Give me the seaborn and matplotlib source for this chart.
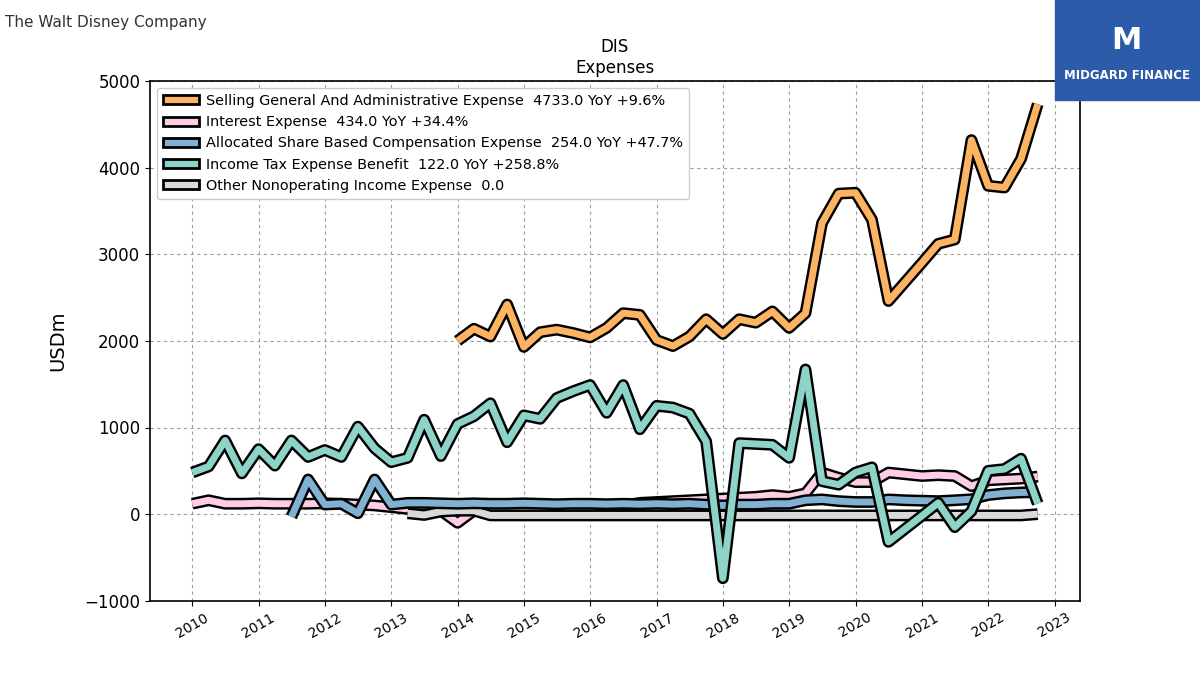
import numpy as np
import pandas as pd
import seaborn as sns
import matplotlib.pyplot as plt
import matplotlib.dates as mdates
from matplotlib.patches import Patch

# quarterly dates (fiscal quarter ends)
dates = pd.date_range("2009-12-31", periods=52, freq="QE")

nan = np.nan

sga = [nan] * 16 + [
    2000, 2140, 2050, 2420, 1930, 2100, 2130, 2090, 2040, 2150, 2320, 2300,
    2010, 1940, 2050, 2250, 2080, 2250, 2210, 2340, 2150, 2320, 3360, 3700,
    3710, 3400, 2460, 2680, 2900, 3120, 3170, 4318, 3790, 3770, 4100, 4733]

interest = [
    120, 160, 120, 120, 125, 120, 120, 120, 125, 120, 110, 100,
    80, 60, 50, 40, -100, 40, 60, 70, 70, 80, 80, 90,
    90, 100, 100, 130, 140, 150, 160, 170, 180, 190, 200, 220,
    200, 240, 480, 420, 370, 370, 480, 460, 440, 450, 440, 323,
    390, 400, 410, 434]

share_comp = [nan] * 6 + [
    -30, 400, 110, 120, 10, 400, 110, 130, 130, 125, 120, 125,
    120, 120, 125, 120, 115, 120, 120, 115, 120, 115, 120, 115,
    120, 110, 100, 110, 110, 120, 120, 160, 170, 150, 140, 140,
    170, 160, 155, 150, 160, 172, 220, 240, 250, 254]

income_tax = [
    480, 550, 850, 470, 750, 560, 850, 660, 740, 660, 1010, 760,
    600, 650, 1090, 670, 1040, 1130, 1280, 830, 1140, 1100, 1340, 1420,
    1490, 1170, 1490, 980, 1250, 1230, 1160, 840, -740, 820, 810, 800,
    650, 1670, 380, 340, 480, 540, -320, -170, -20, 130, -150, 34,
    500, 520, 640, 122]

other_nonop = [nan] * 13 + [
    10, -10, 30, 40, 40, -15, -15, -15, -15, -15, -15, -15,
    -15, -15, -15, -15, -15, -15, -15, -15, -15, -15, -15, -15,
    -15, -15, -15, -15, -15, -15, -15, -15, -15, -15, -15, -15,
    -15, -15, 0]

labels = [
    "Selling General And Administrative Expense  4733.0 YoY +9.6%",
    "Interest Expense  434.0 YoY +34.4%",
    "Allocated Share Based Compensation Expense  254.0 YoY +47.7%",
    "Income Tax Expense Benefit  122.0 YoY +258.8%",
    "Other Nonoperating Income Expense  0.0",
]
series = [sga, interest, share_comp, income_tax, other_nonop]
colors = ["#FDB462", "#FCCDE5", "#80B1D3", "#8DD3C7", "#D9D9D9"]
zorders = [6, 2, 4, 5, 3]

fig, ax = plt.subplots(figsize=(12, 6.75), dpi=100)

for vals, col, z in zip(series, colors, zorders):
    df = pd.DataFrame({"date": dates, "value": vals}).dropna()
    # black outline first, coloured line on top
    sns.lineplot(data=df, x="date", y="value", ax=ax, color="black", lw=8.5,
                 zorder=z, snap=False, solid_capstyle="butt",
                 solid_joinstyle="round")
    sns.lineplot(data=df, x="date", y="value", ax=ax, color=col, lw=5,
                 zorder=z + 0.5, snap=False, solid_capstyle="butt",
                 solid_joinstyle="round")

ax.set_ylim(-1000, 5000)
ax.set_yticks(range(-1000, 5001, 1000))
ax.xaxis.set_major_locator(mdates.YearLocator())
ax.xaxis.set_major_formatter(mdates.DateFormatter("%Y"))
ax.tick_params(axis="x", labelrotation=30, labelsize=10)
ax.tick_params(axis="y", labelsize=12)
ax.grid(True, linestyle=(0, (3, 3)), color="#a0a0a0", linewidth=0.8)
ax.set_xlabel("")
ax.set_ylabel("USDm", fontsize=14, labelpad=12)
ax.set_title("DIS\nExpenses", fontsize=12)
for s in ax.spines.values():
    s.set_linewidth(1.2)

handles = [Patch(facecolor=c, edgecolor="black", linewidth=2, label=l)
           for c, l in zip(colors, labels)]
ax.legend(handles=handles, loc="upper left", fontsize=10.4, handlelength=2.5,
          handleheight=0.6, borderpad=0.4, labelspacing=0.5,
          handletextpad=0.5, framealpha=1)

# branding
fig.text(0.004, 0.967, "The Walt Disney Company", fontsize=11, color="#333333",
         va="center", ha="left")
fig.patches.append(plt.Rectangle((0.879, 0.852), 0.121, 0.148,
                                 transform=fig.transFigure, color="#2C5BAA",
                                 zorder=10))
fig.text(0.939, 0.888, "MIDGARD FINANCE", fontsize=8.5, color="white",
         weight="bold", ha="center", va="center", zorder=11)
fig.text(0.939, 0.94, "M", fontsize=22, color="white", weight="bold",
         ha="center", va="center", zorder=11)

plt.savefig("out.png", dpi=100)
